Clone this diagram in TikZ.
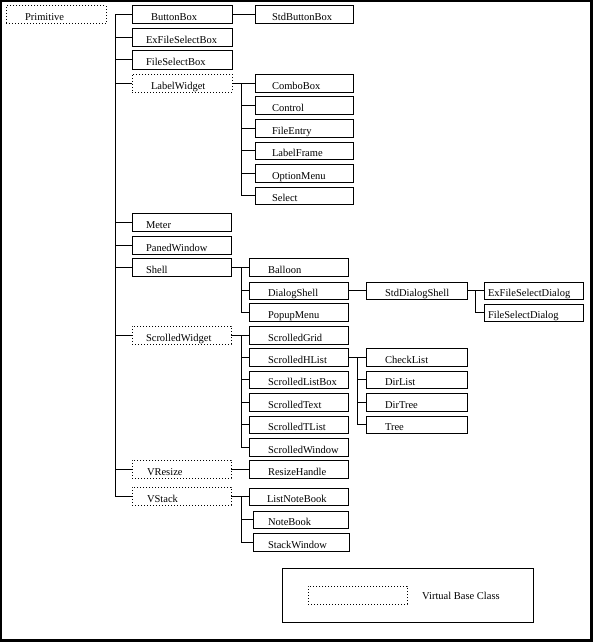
\documentclass[tikz,border=0pt]{standalone}
\usepackage{fontspec}
\setmainfont{Liberation Serif}
\tikzset{
  box/.style={draw, line width=1pt, rectangle, anchor=north west, outer sep=0pt,
    inner ysep=0pt, align=left, text height=12pt, text depth=0pt,
    font=\fontsize{10.5}{12}\selectfont},
  vbox/.style={box, dash pattern=on 1pt off 2pt},
  link/.style={line width=1pt},
}
\newcommand\bx[8]{%
  \pgfmathsetmacro\bxtw{#5-2*#7}%
  \node[#1, minimum width=#5pt, minimum height=#6pt, inner xsep=#7pt, text width=\bxtw pt] (#2) at (#3,#4) {#8};}
\begin{document}
\begin{tikzpicture}[x=1pt,y=-1pt]
\useasboundingbox (0,0) rectangle (593,642);
\fill[black] (0,0) rectangle (593,642);
\fill[white] (2,2) rectangle (590,639);
% root
\bx{vbox}{Primitive}{6}{6}{100}{18}{19}{Primitive}
% column 1
\bx{box}{ButtonBox}{132}{6}{100}{18}{19}{ButtonBox}
\bx{box}{ExFileSelectBox}{132}{29}{100}{18}{14}{ExFileSelectBox}
\bx{box}{FileSelectBox}{132}{51}{100}{18}{14}{FileSelectBox}
\bx{vbox}{LabelWidget}{132}{74}{100}{18}{19}{LabelWidget}
\bx{box}{Meter}{132}{213}{99}{18}{14}{Meter}
\bx{box}{PanedWindow}{132}{236}{99}{18}{14}{PanedWindow}
\bx{box}{Shell}{132}{258}{99}{18}{14}{Shell}
\bx{vbox}{ScrolledWidget}{132}{326}{99}{18}{14}{ScrolledWidget}
\bx{vbox}{VResize}{132}{460}{99}{18}{15}{VResize}
\bx{vbox}{VStack}{132}{487}{99}{18}{15}{VStack}
% column 2 (upper)
\bx{box}{StdButtonBox}{255}{6}{98}{18}{17}{StdButtonBox}
\bx{box}{ComboBox}{255}{74}{98}{18}{17}{ComboBox}
\bx{box}{Control}{255}{96}{98}{18}{17}{Control}
\bx{box}{FileEntry}{255}{119}{98}{18}{17}{FileEntry}
\bx{box}{LabelFrame}{255}{142}{98}{17}{17}{LabelFrame}
\bx{box}{OptionMenu}{255}{164}{98}{18}{17}{OptionMenu}
\bx{box}{Select}{255}{187}{98}{17}{17}{Select}
% column 2 (lower)
\bx{box}{Balloon}{249}{258}{99}{18}{19}{Balloon}
\bx{box}{DialogShell}{249}{282}{99}{17}{19}{DialogShell}
\bx{box}{PopupMenu}{249}{303}{99}{18}{19}{PopupMenu}
\bx{box}{ScrolledGrid}{249}{326}{99}{18}{19}{ScrolledGrid}
\bx{box}{ScrolledHList}{249}{348}{99}{18}{19}{ScrolledHList}
\bx{box}{ScrolledListBox}{249}{371}{99}{17}{19}{ScrolledListBox}
\bx{box}{ScrolledText}{249}{393}{99}{18}{19}{ScrolledText}
\bx{box}{ScrolledTList}{249}{416}{99}{17}{19}{ScrolledTList}
\bx{box}{ScrolledWindow}{249}{438}{99}{18}{19}{ScrolledWindow}
\bx{box}{ResizeHandle}{249}{460}{99}{18}{19}{ResizeHandle}
\bx{box}{ListNoteBook}{249}{488}{99}{17}{18}{ListNoteBook}
\bx{box}{NoteBook}{253}{511}{95}{17}{15}{NoteBook}
\bx{box}{StackWindow}{253}{533}{96}{18}{15}{StackWindow}
% column 3
\bx{box}{StdDialogShell}{366}{282}{101}{17}{19}{StdDialogShell}
\bx{box}{CheckList}{366}{348}{101}{18}{19}{CheckList}
\bx{box}{DirList}{366}{371}{101}{17}{19}{DirList}
\bx{box}{DirTree}{366}{393}{101}{18}{19}{DirTree}
\bx{box}{Tree}{366}{416}{101}{17}{19}{Tree}
% column 4
\bx{box}{ExFileSelectDialog}{484}{282}{99}{17}{4}{ExFileSelectDialog}
\bx{box}{FileSelectDialog}{484}{304}{99}{17}{4}{FileSelectDialog}
% legend
\node[draw, line width=1pt, rectangle, anchor=north west, outer sep=0pt,
  minimum width=251pt, minimum height=54pt, inner sep=0pt] (legend) at (282,568) {};
\node[vbox, minimum width=99pt, minimum height=18pt, inner sep=0pt] (legendv) at (308,586) {};
\node[anchor=west, inner sep=0pt, text height=12pt, text depth=0pt, font=\fontsize{10.5}{12}\selectfont] (legendtext) at (422,593) {Virtual Base Class};
% trunk coordinates
\coordinate (T) at (115,0);
\coordinate (L) at (241,0);
\coordinate (D) at (475,0);
\coordinate (H) at (357,0);
% main trunk
\draw[link] (ButtonBox.west) -| (VStack.west -| T) -- (VStack.west);
\foreach \n in {ExFileSelectBox,FileSelectBox,LabelWidget,Meter,PanedWindow,Shell,ScrolledWidget,VResize}
  \draw[link] (\n.west) -- (\n.west -| T);
% direct links
\draw[link] (ButtonBox.east) -- (StdButtonBox.west);
\draw[link] (DialogShell.east) -- (StdDialogShell.west);
\draw[link] (VResize.east) -- (ResizeHandle.west);
% LabelWidget
\draw[link] (LabelWidget.east) -- (LabelWidget.east -| L) |- (Select.west);
\foreach \n in {ComboBox,Control,FileEntry,LabelFrame,OptionMenu}
  \draw[link] (\n.west) -- (\n.west -| L);
% Shell
\draw[link] (Shell.east) -- (Shell.east -| L) |- (PopupMenu.west);
\foreach \n in {Balloon,DialogShell}
  \draw[link] (\n.west) -- (\n.west -| L);
% StdDialogShell
\draw[link] (StdDialogShell.east) -- (StdDialogShell.east -| D) |- (FileSelectDialog.west);
\draw[link] (ExFileSelectDialog.west) -- (ExFileSelectDialog.west -| D);
% ScrolledWidget
\draw[link] (ScrolledWidget.east) -- (ScrolledWidget.east -| L) |- (ScrolledWindow.west);
\foreach \n in {ScrolledGrid,ScrolledHList,ScrolledListBox,ScrolledText,ScrolledTList}
  \draw[link] (\n.west) -- (\n.west -| L);
% ScrolledHList
\draw[link] (ScrolledHList.east) -- (ScrolledHList.east -| H) |- (Tree.west);
\foreach \n in {CheckList,DirList,DirTree}
  \draw[link] (\n.west) -- (\n.west -| H);
% VStack
\draw[link] (VStack.east) -- (VStack.east -| L) |- (StackWindow.west);
\foreach \n in {ListNoteBook,NoteBook}
  \draw[link] (\n.west) -- (\n.west -| L);
\end{tikzpicture}
\end{document}
